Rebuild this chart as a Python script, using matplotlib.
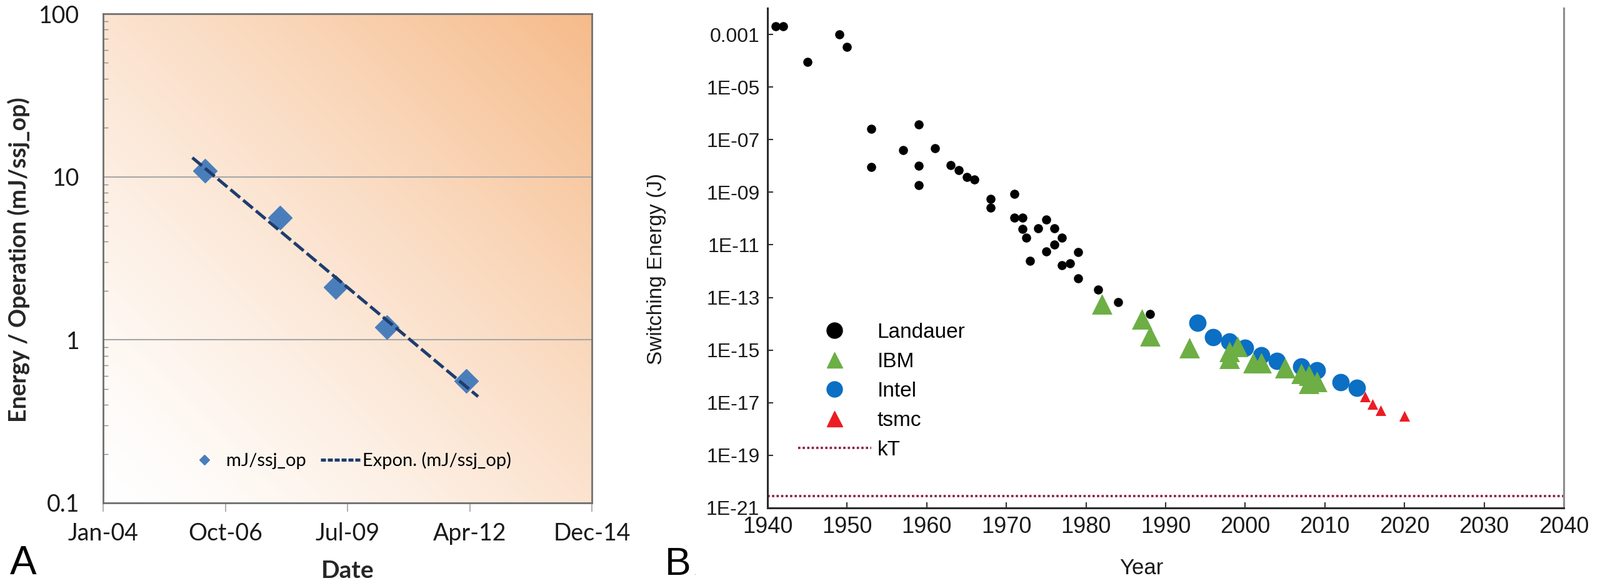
import numpy as np
import matplotlib
matplotlib.use('Agg')
import matplotlib.pyplot as plt
import matplotlib.dates as mdates
from matplotlib.colors import LinearSegmentedColormap
from matplotlib.lines import Line2D
from matplotlib.ticker import FixedLocator, FuncFormatter, LogLocator, NullFormatter

# ---- panel A: server energy per ssj_op (Excel style chart)
ssj_dates = ['2006-04-27', '2007-12-31', '2009-04-01', '2010-05-24', '2012-03-04']
ssj_mj = [10.9, 5.6, 2.1, 1.2, 0.56]
trend_span = ['2006-01-13', '2012-06-09']
date_ticks = ['2004-01-14', '2006-10-10', '2009-07-06', '2012-04-01', '2014-12-27']
a_yticks = [0.1, 1, 10, 100]

# ---- panel B: switching energy over time
landauer_year = [1941, 1942, 1945, 1949, 1950, 1953, 1953, 1957, 1959, 1959, 1959, 1961,
                 1963, 1964, 1965, 1966, 1968, 1968, 1971, 1971, 1972, 1972, 1972.5, 1973,
                 1974, 1975, 1975, 1976, 1976, 1977, 1977, 1978, 1979, 1979, 1981.5, 1984, 1988]
landauer_j = [2.0e-3, 2.0e-3, 9e-5, 1e-3, 3.4e-4, 2.6e-7, 9e-9, 4e-8, 3.8e-7, 1e-8, 1.9e-9, 4.7e-8,
              1.1e-8, 7e-9, 3.7e-9, 3e-9, 5.5e-10, 2.6e-10, 8.5e-10, 1.1e-10, 1.1e-10, 4e-11, 1.9e-11, 2.5e-12,
              4.3e-11, 9.3e-11, 5.6e-12, 4.3e-11, 1e-11, 1.9e-11, 1.7e-12, 2e-12, 5.3e-12, 5.3e-13, 2e-13, 6.7e-14, 2.4e-14]
ibm_year = [1982, 1987, 1988, 1993, 1998, 1998, 1999, 2001, 2002, 2005, 2007, 2008, 2008, 2009]
ibm_j = [5.8e-14, 1.5e-14, 3.5e-15, 1.2e-15, 9e-16, 4.7e-16, 1.4e-15, 3.2e-16, 3.2e-16, 2.1e-16,
         1.3e-16, 5.5e-17, 1.1e-16, 6.5e-17]
intel_year = [1994, 1996, 1998, 2000, 2002, 2004, 2007, 2009, 2012, 2014]
intel_j = [1.1e-14, 3.1e-15, 2.1e-15, 1.2e-15, 6.2e-16, 3.9e-16, 2.4e-16, 1.7e-16, 5.9e-17, 3.6e-17]
tsmc_year = [2015, 2016, 2017, 2020]
tsmc_j = [1.7e-17, 8.9e-18, 5e-18, 3.2e-18]
kT_joule = 2.87e-21
year_ticks = list(range(1940, 2041, 10))
energy_ticks = [10.0 ** -k for k in range(3, 22, 2)]

W, H = 2560, 940
fig = plt.figure(figsize=(W / 100, H / 100), dpi=100)

# ---------------- A ----------------
posA = [165 / W, 1 - 804 / H, 782 / W, 782 / H]
bg = fig.add_axes(posA, zorder=0)
n = 300
xx, yy = np.meshgrid(np.linspace(0, 1, n), np.linspace(0, 1, n))
cmap = LinearSegmentedColormap.from_list('peach', ['#ffffff', '#f6bb8a'])
bg.imshow(((xx + yy) / 2) ** 1.3, cmap=cmap, origin='lower', extent=[0, 1, 0, 1], aspect='auto',
          vmin=0, vmax=1)
bg.axis('off')

axA = fig.add_axes(posA, zorder=1)
axA.patch.set_alpha(0)
fa = 'Lato'
xd = mdates.date2num(np.array(ssj_dates, dtype='datetime64[D]'))
xt = mdates.date2num(np.array(date_ticks, dtype='datetime64[D]'))
span = mdates.date2num(np.array(trend_span, dtype='datetime64[D]'))

axA.set_yscale('log')
axA.set_ylim(a_yticks[0], a_yticks[-1])
axA.set_xlim(xt[0], xt[-1])
axA.yaxis.grid(True, which='major', color='#a6a6a6', lw=1.5)
axA.set_axisbelow(True)

axA.plot(xd, ssj_mj, ls='none', marker='D', ms=19, color='#4a7ebb', zorder=3)
coef = np.polyfit(xd, np.log(ssj_mj), 1)
xfit = np.linspace(span[0], span[1], 100)
axA.plot(xfit, np.exp(np.polyval(coef, xfit)), color='#1f3c6e', lw=3.6, dashes=(4, 1.3), zorder=4)

axA.yaxis.set_major_locator(FixedLocator(a_yticks))
axA.yaxis.set_major_formatter(FuncFormatter(lambda v, p: f'{v:g}'))
axA.yaxis.set_minor_locator(LogLocator(base=10, subs=np.arange(2, 10)))
axA.yaxis.set_minor_formatter(NullFormatter())
axA.tick_params(axis='y', which='major', length=0, pad=27, labelsize=27, labelcolor='#1a1a1a')
axA.tick_params(axis='y', which='minor', direction='in', length=6, width=1, color='#8c8c8c')
axA.xaxis.set_major_locator(FixedLocator(xt))
axA.xaxis.set_major_formatter(mdates.DateFormatter('%b-%y'))
axA.tick_params(axis='x', direction='out', length=10, width=1.2, color='#a0a0a0', pad=12,
                labelsize=27, labelcolor='#1a1a1a')
for lab in axA.get_xticklabels() + axA.get_yticklabels():
    lab.set_family(fa)
for s in axA.spines.values():
    s.set_color('#707070')
    s.set_linewidth(2)

handlesA = [Line2D([], [], ls='none', marker='D', ms=8, color='#4a7ebb'),
            Line2D([], [], color='#1f3c6e', lw=3.6, dashes=(1.6, 0.6))]
axA.legend(handlesA, ['mJ/ssj_op', 'Expon. (mJ/ssj_op)'], loc='center', bbox_to_anchor=(0.501, 0.087),
           ncol=2, frameon=False, prop={'family': fa, 'size': 21}, handlelength=2.2,
           handletextpad=0.1, columnspacing=0.8)

fig.text(30 / W, 1 - 415 / H, 'Energy / Operation (mJ/ssj_op)', rotation=90, ha='center', va='center',
         fontsize=27, fontweight='bold', family=fa, color='#262626')
fig.text(556 / W, 1 - 912 / H, 'Date', ha='center', va='center', fontsize=28, fontweight='bold',
         family=fa, color='#262626')

# ---------------- B ----------------
fb = 'Liberation Sans'
posB = [1228 / W, 1 - 812 / H, 1274 / W, 799 / H]
axB = fig.add_axes(posB)
axB.set_yscale('log')
axB.set_ylim(1e-21, 1e-2)
axB.set_xlim(year_ticks[0], year_ticks[-1])

c_green, c_blue, c_red, c_kt = '#6dae45', '#0b6fc3', '#ec1c24', '#8c1d3d'
axB.scatter(intel_year, intel_j, s=400, marker='o', color=c_blue, lw=0, zorder=2)
axB.scatter(ibm_year, ibm_j, s=560, marker='^', color=c_green, lw=0, zorder=3)
axB.scatter(tsmc_year, tsmc_j, s=150, marker='^', color=c_red, lw=0, zorder=4)
axB.scatter(landauer_year, landauer_j, s=110, marker='o', color='black', lw=0, zorder=5)
axB.axhline(kT_joule, color=c_kt, lw=2.6, ls=(0, (1, 1)), dash_capstyle='butt', zorder=1)

axB.yaxis.set_major_locator(FixedLocator(energy_ticks))
axB.yaxis.set_major_formatter(FuncFormatter(lambda v, p: '0.001' if abs(np.log10(v) + 3) < 0.01
                                            else '1E-%02d' % round(-np.log10(v))))
axB.yaxis.set_minor_locator(FixedLocator([]))
axB.xaxis.set_major_locator(FixedLocator(year_ticks))
axB.tick_params(axis='both', direction='in', length=6.5, width=1.5, color='#333333', pad=9,
                labelcolor='#1a1a1a')
axB.tick_params(axis='y', labelsize=23)
axB.tick_params(axis='x', labelsize=26)
for lab in axB.get_xticklabels() + axB.get_yticklabels():
    lab.set_family(fb)
axB.spines['top'].set_visible(False)
axB.spines['right'].set_color('#8c8c8c')
for k in ['left', 'bottom', 'right']:
    axB.spines[k].set_linewidth(2.2)
for k in ['left', 'bottom']:
    axB.spines[k].set_color('#2b2b2b')

handlesB = [Line2D([], [], ls='none', marker='o', ms=18, color='black'),
            Line2D([], [], ls='none', marker='^', ms=18, color=c_green),
            Line2D([], [], ls='none', marker='o', ms=18, color=c_blue),
            Line2D([], [], ls='none', marker='^', ms=18, color=c_red),
            Line2D([], [], color=c_kt, lw=2.6, ls=(0, (1, 1)), dash_capstyle='butt')]
axB.legend(handlesB, ['Landauer', 'IBM', 'Intel', 'tsmc', 'kT'], loc='upper left',
           bbox_to_anchor=(1277 / W, 1 - 516 / H), bbox_transform=fig.transFigure,
           frameon=False, borderpad=0, borderaxespad=0, prop={'family': fb, 'size': 24},
           handlelength=3.5, handletextpad=0.3, labelspacing=0.48)

fig.text(1050 / W, 1 - 430 / H, 'Switching Energy (J)', rotation=90, ha='center', va='center',
         fontsize=24, family=fb, color='#1a1a1a')
fig.text(1826 / W, 1 - 909 / H, 'Year', ha='center', va='center', fontsize=25, family=fb, color='#1a1a1a')

fig.text(16 / W, 1 - 918 / H, 'A', ha='left', va='baseline', fontsize=46, family=fb)
fig.text(1064 / W, 1 - 919 / H, 'B', ha='left', va='baseline', fontsize=45, family=fb)
fig.text(1110 / W, 1 - 919 / H, '..', ha='left', va='baseline', fontsize=5, family=fb, color='#777777')

fig.savefig('out.png', dpi=100)
